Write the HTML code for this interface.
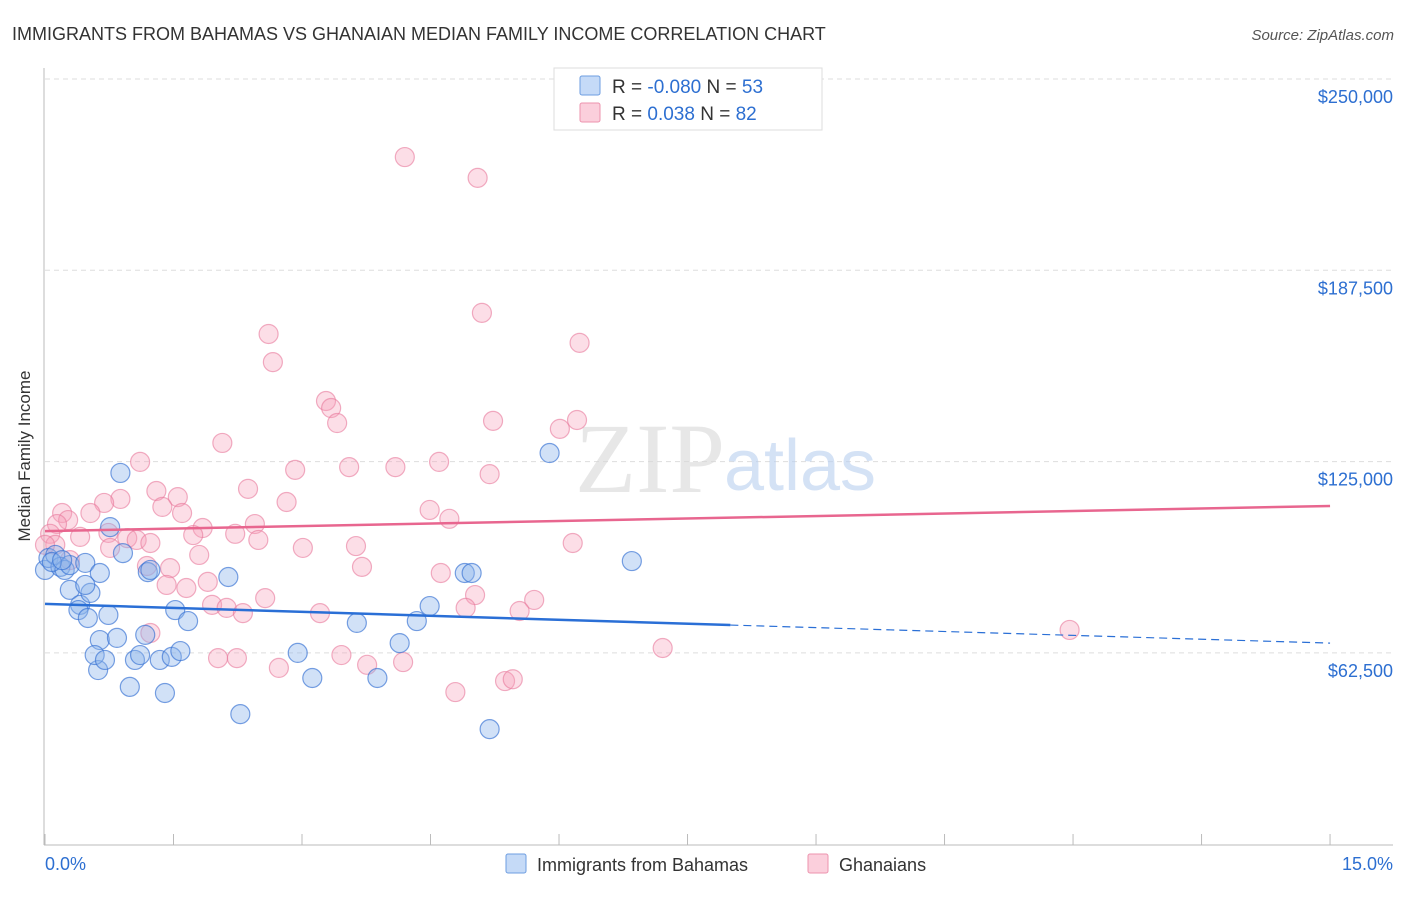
<!DOCTYPE html>
<html><head><meta charset="utf-8"><style>
body{margin:0;background:#fff;font-family:"Liberation Sans",sans-serif;}
</style></head><body>
<svg width="1406" height="892" xmlns="http://www.w3.org/2000/svg" style="font-family:'Liberation Sans',sans-serif">
<text x="12" y="40" font-size="18" fill="#333">IMMIGRANTS FROM BAHAMAS VS GHANAIAN MEDIAN FAMILY INCOME CORRELATION CHART</text>
<text x="1394" y="40" font-size="15" fill="#555" font-style="italic" text-anchor="end">Source: ZipAtlas.com</text>
<g id="grid"></g>
<g id="axes"></g>
<text x="650" y="492" font-size="100" fill="#d8d8d8" font-family="Liberation Serif" opacity="0.6" text-anchor="middle">ZIP</text>
<text x="800" y="490" font-size="72" fill="#b8cff0" opacity="0.6" text-anchor="middle">atlas</text>
<g id="pts"></g>
<g id="trend"></g>
<text x="30" y="456" font-size="17" fill="#333" text-anchor="middle" transform="rotate(-90 30 456)">Median Family Income</text>
<g>
<rect x="554" y="68" width="268" height="62" fill="#fff" stroke="#ddd"/>
<rect x="580" y="76" width="20" height="19" fill="#c5daf7" stroke="#6d9de0" rx="2"/>
<rect x="580" y="103" width="20" height="19" fill="#fbcfdc" stroke="#ec93ae" rx="2"/>
<text x="612" y="93" font-size="19" fill="#333">R = <tspan fill="#2d6fd1">-0.080</tspan>   N = <tspan fill="#2d6fd1">53</tspan></text>
<text x="612" y="120" font-size="19" fill="#333">R =  <tspan fill="#2d6fd1"> 0.038</tspan>   N = <tspan fill="#2d6fd1">82</tspan></text>
</g>
<g>
<rect x="506" y="854" width="20" height="19" fill="#c5daf7" stroke="#6d9de0" rx="2"/>
<text x="537" y="871" font-size="18" fill="#333">Immigrants from Bahamas</text>
<rect x="808" y="854" width="20" height="19" fill="#fbcfdc" stroke="#ec93ae" rx="2"/>
<text x="839" y="871" font-size="18" fill="#333">Ghanaians</text>
</g>
</svg>
<script>
const yTicks=[62500,125000,187500,250000];
const yTickLabels=["$62,500","$125,000","$187,500","$250,000"];
const xTickLabels=["0.0%","15.0%"];
const blueX=[0,0.04,0.12,0.18,0.23,0.29,0.47,0.64,0.29,0.41,0.53,0.47,0.39,0.50,0.74,0.64,0.62,0.58,0.70,0.84,0.99,1.05,1.11,1.17,1.20,1.34,1.40,1.48,1.52,1.58,1.67,0.88,0.76,0.91,2.14,2.28,2.95,3.12,3.64,3.88,4.14,4.34,4.49,4.90,4.98,5.19,5.89,6.85,1.23,0.08,0.2];
const blueY=[89.6,93.5,94.5,90.6,89.6,91.2,91.9,88.6,83.1,78.2,82.1,84.7,76.5,73.9,74.9,66.7,56.9,61.8,60.2,67.4,51.4,60.2,61.8,68.4,88.9,60.2,49.4,61.2,76.5,63.1,72.9,121.3,103.6,95.1,87.3,42.5,62.5,54.3,72.3,54.3,65.7,72.9,77.8,88.6,88.6,37.6,127.8,92.5,89.6,92.2,92.8];
const pinkX=[4.20,5.05,5.10,6.24,2.61,2.66,3.28,3.34,3.41,5.23,6.01,6.21,2.07,1.11,3.55,4.09,4.60,2.92,5.19,1.30,2.37,1.55,0.88,2.82,0.69,0.20,0.53,0.27,0.14,0.06,1.60,1.37,4.49,4.72,2.45,1.84,2.22,0.74,0.41,0.96,1.07,2.49,1.73,1.23,0.12,0.0,0.76,3.01,3.63,6.16,1.80,1.19,1.46,3.70,4.62,1.90,1.42,1.65,5.02,5.71,2.57,1.95,2.12,2.31,4.91,5.54,3.21,1.23,3.46,4.18,3.76,2.02,2.24,2.73,4.79,5.37,5.46,7.21,11.96,0.29];
const pinkY=[224.5,217.7,173.6,163.8,166.7,157.5,144.8,142.5,137.6,138.3,135.7,138.6,131.1,124.9,123.2,123.2,124.9,122.3,120.9,115.4,116.1,113.4,112.8,111.8,111.5,108.2,108.2,105.9,104.6,101.4,108.2,110.2,109.2,106.3,104.6,103.3,101.4,101.7,100.4,100.0,99.4,99.4,101.0,98.4,97.8,97.8,96.8,96.8,97.4,98.4,94.5,90.9,90.2,90.6,88.6,85.7,84.7,83.7,81.4,79.8,80.4,78.2,77.2,75.5,77.2,76.2,75.5,69.0,61.8,59.5,58.6,60.8,60.8,57.6,49.7,53.3,53.9,64.1,70.0,92.8];
const blueTrendX=[0,8,15], blueTrendY=[78.5,71.6,65.7];
const pinkTrendX=[0,15], pinkTrendY=[102.3,110.5];
const NS="http://www.w3.org/2000/svg";
const xs=p=>45+p*85.67;
const ys=v=>79+(250000-v)/62500*191.3;
function mk(t,a,parent){const e=document.createElementNS(NS,t);for(const k in a)e.setAttribute(k,a[k]);document.getElementById(parent).appendChild(e);return e;}
yTicks.forEach((v,i)=>{
 const l=mk('line',{x1:45,x2:1393,y1:ys(v),y2:ys(v),stroke:'#ddd','stroke-dasharray':'5,4'},'grid');
 
 
 const t=mk('text',{x:1393,y:ys(v)+24,'font-size':18,fill:'#2d6fd1','text-anchor':'end'},'grid');
 t.textContent=yTickLabels[i];
 
 
});
let a=mk('line',{x1:44,x2:44,y1:68,y2:845,stroke:'#bbb'},'axes');


a=mk('line',{x1:44,x2:1393,y1:845,y2:845,stroke:'#bbb'},'axes');


for(let k=0;k<=10;k++){
 const tk=mk('line',{x1:xs(k*1.5),x2:xs(k*1.5),y1:834,y2:845,stroke:'#bbb'},'axes');
 
 
}
[[0,'start',45],[15,'end',1393]].forEach((d,i)=>{
 const t=mk('text',{x:d[2],y:870,'font-size':18,fill:'#2d6fd1','text-anchor':d[1]},'axes');
 t.textContent=xTickLabels[i];
 
 
});
pinkX.forEach((x,i)=>{
 const c=mk('circle',{cx:xs(x),cy:ys(pinkY[i]*1000),r:9.5,fill:'rgba(245,160,185,0.35)',stroke:'rgba(232,120,155,0.6)','stroke-width':1.2},'pts');
 
 
});
blueX.forEach((x,i)=>{
 const c=mk('circle',{cx:xs(x),cy:ys(blueY[i]*1000),r:9.5,fill:'rgba(140,180,235,0.4)',stroke:'rgba(50,110,210,0.65)','stroke-width':1.2},'pts');
 
 
});
let t1=mk('line',{x1:xs(pinkTrendX[0]),y1:ys(pinkTrendY[0]*1000),x2:xs(pinkTrendX[1]),y2:ys(pinkTrendY[1]*1000),stroke:'#e8668f','stroke-width':2.5},'trend');


let t2=mk('line',{x1:xs(blueTrendX[0]),y1:ys(blueTrendY[0]*1000),x2:xs(blueTrendX[1]),y2:ys(blueTrendY[1]*1000),stroke:'#2a6fd6','stroke-width':2.5},'trend');


let t3=mk('line',{x1:xs(blueTrendX[1]),y1:ys(blueTrendY[1]*1000),x2:xs(blueTrendX[2]),y2:ys(blueTrendY[2]*1000),stroke:'#2a6fd6','stroke-width':1.2,'stroke-dasharray':'8,5'},'trend');


</script>
</body></html>
